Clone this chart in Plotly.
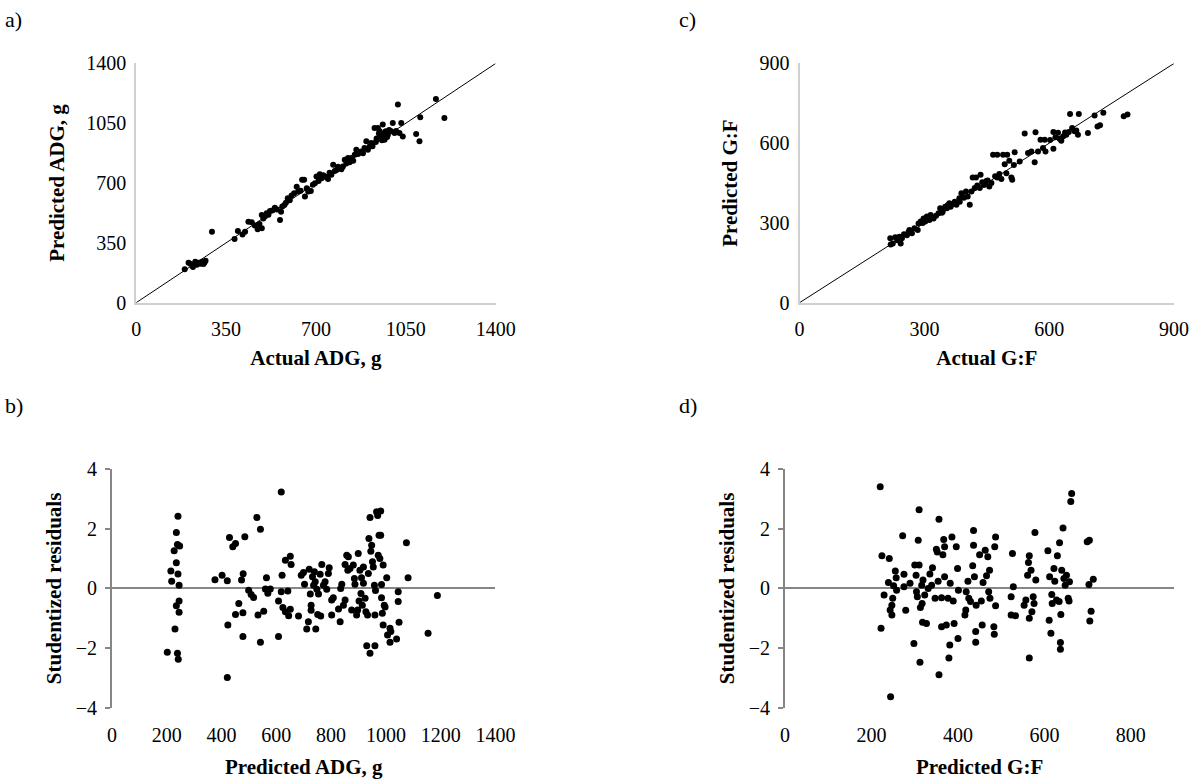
import plotly.graph_objects as go

# ---------------- a) Actual vs predicted ADG ----------------
adg_actual = [189, 204, 212, 221, 230, 236, 243, 250, 256, 262, 266, 270, 295,
              383, 396, 414, 424, 437, 450, 462, 473, 480, 489, 489, 495, 502, 508, 515, 521, 530,
              540, 548, 560, 564, 569, 577, 583, 590, 598, 605, 615, 625, 631, 640, 646, 654, 657,
              664, 670, 680, 688, 696, 702, 710, 715, 722, 728, 735, 741, 747, 753, 760, 767, 773,
              780, 786, 792, 799, 805, 812, 818, 825, 831, 838, 845, 851, 857, 864, 870, 876, 883,
              889, 896, 902, 909, 915, 920, 928, 933, 936, 941, 945, 948, 954, 957, 960, 963, 967,
              970, 973, 977, 980, 985, 993, 999, 1006, 1012, 1019, 1025, 1032, 1038, 1090, 1103,
              1106, 1167, 1200]
adg_predicted = [196, 233, 226, 209, 239, 222, 233, 228, 239, 226, 235, 245, 415,
                 372, 419, 399, 415, 474, 470, 452, 429, 460, 435, 513, 493, 505, 523, 515, 536, 540,
                 556, 545, 484, 532, 562, 572, 585, 611, 600, 627, 640, 679, 650, 655, 719, 719, 621,
                 670, 650, 654, 690, 699, 738, 712, 752, 728, 745, 738, 735, 724, 760, 748, 807, 770,
                 777, 795, 787, 780, 797, 836, 815, 846, 822, 846, 830, 865, 895, 870, 880, 885, 875,
                 905, 944, 895, 914, 934, 915, 1022, 940, 960, 1022, 990, 1003, 973, 950, 1042, 985, 954,
                 1000, 1003, 970, 983, 1010, 1003, 1051, 993, 1005, 1159, 993, 1051, 973, 987, 944,
                 1085, 1192, 1081]

# ---------------- b) Residuals vs predicted ADG ----------------
adg_pred_res = [202, 215, 218, 227, 230, 235, 235, 235, 239, 239, 241, 241, 242, 245, 245, 247, 245,
                376, 402, 421, 421, 423, 429, 441, 451, 451, 463, 473, 478, 479, 478, 485, 499, 508,
                517, 529, 533, 542, 542, 554, 560, 564, 569, 578, 608, 608, 618, 621, 618, 624, 633,
                633, 642, 645, 651, 654, 651, 681, 691, 699, 703, 711, 717, 720, 724, 727, 727, 732,
                736, 739, 742, 744, 748, 754, 751, 760, 762, 766, 772, 778, 784, 790, 793, 802, 802,
                808, 827, 833, 835, 839, 845, 851, 851, 857, 863, 861, 869, 875, 881, 885, 887, 893,
                897, 899, 902, 905, 909, 911, 914, 918, 918, 924, 927, 930, 933, 936, 938, 942, 942,
                945, 948, 951, 954, 958, 960, 960, 962, 966, 970, 972, 975, 978, 981, 981, 984, 984,
                987, 990, 994, 997, 990, 1003, 1006, 1015, 1015, 1018, 1039, 1045, 1045, 1048, 1075,
                1081, 1188, 1154]
adg_resid = [-2.13, 0.58, 0.24, 1.26, -1.36, 0.86, 1.87, -0.58, 1.47, -2.17, 0.48, 2.41, -2.37,
             -0.42, 0.11, 1.42, -0.80,
             0.29, 0.44, 0.26, -2.98, -1.22, 1.70, 1.39, 1.50, -0.87, -0.50, 0.28, -1.61, 0.49,
             -0.81, 1.73, -0.06, -0.20, -0.30, 2.37, -0.89, 1.98, -1.80, -0.76, -0.02, 0.36, -0.16,
             -0.02, -0.42, -1.61, 3.22, 0.44, -0.11, -0.64, 0.94, -0.78, -0.09, -0.91, 1.08, 0.80,
             -0.70, -0.92, 0.44, 0.53, 0.14, -1.36, -1.11, 0.64, -0.19, -0.56, -0.73, 0.39, 0.11,
             0.56, 0.22, -1.36, -0.03, -0.19, -0.87, 0.47, -0.92, 0.80, 0.11, 0.22, -0.03, 0.50,
             0.69, -0.89, -0.39, -0.31, -0.69, -1.11, 0.00, 0.14, -0.56, -0.39, 0.80, 1.11, 1.06,
             0.61, 0.67, -0.72, 0.78, 0.33, 0.14, -0.89, -0.72, 1.17, -0.42, 0.61, -0.17, 0.36,
             -0.56, 0.17, 0.72, -0.33, -0.78, -1.92, -0.89, 0.50, 1.67, 2.37, -2.17, 1.24, 1.44,
             0.89, 0.72, 0.11, -0.89, -1.92, -0.07, 2.56, 2.44, 1.11, 1.78, 1.00, 2.59, 1.78,
             -0.31, 0.13, -0.83, 0.78, -0.56, -0.62, -1.22, 0.36, -1.56, -1.33, -1.80, -1.44,
             -1.69, -0.11, -0.44, -1.13, 1.53, 0.36, -0.24, -1.50]

# ---------------- c) Actual vs predicted G:F ----------------
gf_actual = [218, 219, 224, 230, 235, 240, 243, 246, 251, 258, 264, 270, 276, 284, 286, 291, 298,
             302, 306, 312, 315, 322, 328, 334, 338, 344, 350, 354, 360, 363, 368, 373, 377, 384,
             385, 389, 395, 400, 404, 409, 413, 416, 421, 424, 427, 433, 435, 439, 443, 449, 456,
             461, 465, 475, 475, 480, 485, 489, 493, 497, 499, 504, 509, 511, 515, 517, 529, 541,
             549, 557, 565, 567, 573, 579, 585, 589, 591, 610, 610, 615, 621, 625, 629, 634, 641,
             647, 650, 655, 661, 665, 671, 669, 693, 709, 716, 722, 730, 779, 788,
             262, 296, 318, 342, 356, 392, 446, 452, 470, 602, 638]
gf_predicted = [242, 219, 223, 246, 235, 248, 223, 242, 257, 254, 273, 261, 280, 273, 298, 305, 317,
                305, 324, 311, 330, 317, 327, 336, 355, 342, 361, 355, 374, 361, 370, 380, 368, 393,
                380, 412, 395, 418, 399, 368, 418, 471, 431, 471, 441, 431, 481, 453, 443, 458, 437,
                450, 556, 556, 471, 484, 465, 556, 521, 487, 556, 534, 471, 462, 518, 566, 531, 636,
                563, 569, 528, 641, 569, 613, 582, 613, 569, 579, 642, 622, 639, 617, 609, 626, 632,
                642, 710, 657, 645, 648, 710, 632, 638, 704, 663, 667, 714, 701, 708,
                266, 300, 322, 338, 366, 398, 446, 460, 476, 612, 640]

# ---------------- d) Residuals vs predicted G:F ----------------
gf_pred_res = [220, 222, 224, 229, 239, 241, 243, 244, 247, 247, 249, 251, 255, 257, 258, 272, 275,
               275, 279, 289, 298, 300, 303, 304, 306, 308, 310, 310, 312, 313, 316, 317, 318, 319,
               323, 327, 331, 335, 339, 341, 347, 350, 352, 354, 356, 356, 362, 362, 365, 367, 369,
               369, 373, 377, 379, 381, 382, 386, 389, 391, 396, 399, 400, 401, 416, 418, 419, 423,
               425, 429, 434, 436, 436, 438, 441, 441, 442, 450, 454, 456, 458, 463, 466, 469, 471,
               473, 474, 483, 484, 485, 487, 487, 523, 523, 526, 528, 533, 553, 557, 561, 563, 565,
               565, 565, 569, 571, 574, 576, 578, 580, 608, 611, 612, 615, 617, 618, 622, 624, 628,
               630, 634, 635, 637, 637, 638, 640, 643, 645, 648, 651, 655, 657, 658, 661, 663, 699,
               704, 703, 705, 708, 713]
gf_resid = [3.40, -1.33, 1.09, -0.22, 0.20, 1.00, -0.72, -3.62, -0.89, -0.56, -0.33, 0.09, 0.58,
            0.36, -0.06, 1.76, 0.47, 0.06, -0.73, 0.17, -1.84, 0.78, 0.44, -0.11, -0.28, 1.61,
            2.63, 0.78, -2.47, -0.64, 0.11, -0.50, -1.13, 0.28, -0.22, -1.17, 0.00, 0.48, 0.11,
            0.69, -0.33, 1.31, 1.22, 0.24, 2.31, -2.89, -0.31, -1.28, 1.13, 1.64, 1.39, 0.39,
            -1.22, -0.33, -2.33, -1.89, 0.17, 1.72, -0.42, -1.17, 1.39, 0.67, -1.67, -0.06, -0.89,
            -0.72, -0.11, 0.24, -0.33, -0.44, 0.76, 1.94, 1.44, 0.39, -1.44, -1.80, -0.56, 1.13,
            -0.42, -1.22, 0.20, 1.28, 0.42, 1.06, -0.11, 0.61, -0.33, -1.28, -1.53, 1.39, 1.72,
            -0.58, -0.28, -0.89, 1.17, 0.06, -0.91, -0.56, -0.39, 0.44, 0.87, 1.09, -2.33, -1.00,
            0.61, -0.78, -0.28, -0.50, 1.87, 0.28, 1.26, -1.06, 0.39, -1.50, -0.20, -0.50, 0.67,
            0.24, -0.39, 1.09, -0.44, 1.53, -1.81, -2.03, -0.87, 0.61, 2.02, 0.33, 0.11, 0.44,
            -0.33, -0.42, 0.22, 2.91, 3.17, 1.56, 1.61, 0.13, -1.09, -0.76, 0.31]

ADG_MAX = 1400
GF_MAX = 900

SERIF = "Liberation Serif, Times New Roman, serif"
LIGHT = "#d0d0d0"
MID = "#868686"

W, H = 1198, 784
# page placement: the page keeps a small body margin, so layout positions
# are given in page pixels and converted to figure fractions here
SCALE = 0.983
OFF_X, OFF_Y = 5.3, 6.0


def px(xp):
    return ((xp - OFF_X) / SCALE) / W


def py(yp):
    return 1 - ((yp - OFF_Y) / SCALE) / H


fig = go.Figure()

dot = dict(color="black", size=6)
fig.add_trace(go.Scatter(x=[0, ADG_MAX], y=[0, ADG_MAX], mode="lines",
                         line=dict(color="black", width=1), xaxis="x", yaxis="y",
                         hoverinfo="skip"))
fig.add_trace(go.Scatter(x=adg_actual, y=adg_predicted, mode="markers", marker=dot,
                         xaxis="x", yaxis="y"))
fig.add_trace(go.Scatter(x=adg_pred_res, y=adg_resid, mode="markers",
                         marker=dict(color="black", size=7), xaxis="x2", yaxis="y2"))
fig.add_trace(go.Scatter(x=[0, GF_MAX], y=[0, GF_MAX], mode="lines",
                         line=dict(color="black", width=1), xaxis="x3", yaxis="y3",
                         hoverinfo="skip"))
fig.add_trace(go.Scatter(x=gf_actual, y=gf_predicted, mode="markers", marker=dot,
                         xaxis="x3", yaxis="y3"))
fig.add_trace(go.Scatter(x=gf_pred_res, y=gf_resid, mode="markers",
                         marker=dict(color="black", size=7), xaxis="x4", yaxis="y4"))

top_dom = [py(301), py(59)]
bot_dom = [py(711), py(469)]

tickfont = dict(family=SERIF, size=20, color="black")
titlefont = dict(family=SERIF, size=21, color="black", weight="bold")


def scatter_x(domain, rng, dtick, title, anchor):
    return dict(domain=domain, range=rng, tickvals=list(range(0, rng[1] + 1, dtick)),
                showline=True, linecolor=LIGHT, linewidth=2, showgrid=False, zeroline=False,
                ticks="", tickfont=tickfont, ticklabelstandoff=7, anchor=anchor,
                title=dict(text=title, font=titlefont, standoff=12), fixedrange=True)


def scatter_y(domain, rng, dtick, title, anchor):
    return dict(domain=domain, range=rng, tickvals=list(range(0, rng[1] + 1, dtick)),
                showline=True, linecolor=LIGHT, linewidth=2, showgrid=False, zeroline=False,
                ticks="", tickfont=tickfont, ticklabelstandoff=4, anchor=anchor,
                title=dict(text=title, font=titlefont, standoff=16), fixedrange=True)


def resid_x(domain, rng, tickvals, title, anchor):
    return dict(domain=domain, range=rng, tickvals=tickvals, showline=False, showgrid=False,
                zeroline=False, ticks="", tickfont=tickfont, ticklabelstandoff=13, anchor=anchor,
                title=dict(text=title, font=titlefont, standoff=14), fixedrange=True)


def resid_y(domain, title, anchor):
    return dict(domain=domain, range=[-4, 4], tickvals=[-4, -2, 0, 2, 4], showline=True,
                linecolor=MID, linewidth=2, ticks="outside", ticklen=5, tickwidth=2,
                tickcolor=MID, showgrid=False, zeroline=True, zerolinecolor=MID,
                zerolinewidth=2, tickfont=tickfont, ticklabelstandoff=4, anchor=anchor,
                title=dict(text=title, font=titlefont, standoff=8), fixedrange=True)


fig.update_layout(
    width=W, height=H, margin=dict(l=0, r=0, t=0, b=0),
    paper_bgcolor="white", plot_bgcolor="white", showlegend=False,
    xaxis=scatter_x([px(137), px(498)], [0, ADG_MAX], 350, "Actual ADG, g", "y"),
    yaxis=scatter_y(top_dom, [0, ADG_MAX], 350, "Predicted ADG, g", "x"),
    xaxis2=resid_x([px(112.7), px(497.7)], [0, 1400], list(range(0, 1401, 200)),
                   "Predicted ADG, g", "y2"),
    yaxis2=resid_y(bot_dom, "Studentized residuals", "x2"),
    xaxis3=scatter_x([px(803), px(1179)], [0, GF_MAX], 300, "Actual G:F", "y3"),
    yaxis3=scatter_y(top_dom, [0, GF_MAX], 300, "Predicted G:F", "x3"),
    xaxis4=resid_x([px(788.5), px(1179)], [0, 900], list(range(0, 801, 200)),
                   "Predicted G:F", "y4"),
    yaxis4=resid_y(bot_dom, "Studentized residuals", "x4"),
)

panel_labels = [("a)", 3, 15), ("b)", 3, 405), ("c)", 680, 15), ("d)", 680, 405)]
for txt, lx, ly in panel_labels:
    fig.add_annotation(text=txt, x=px(lx), y=py(ly), xref="paper", yref="paper",
                       xanchor="left", yanchor="middle", showarrow=False,
                       font=dict(family=SERIF, size=22, color="black"))

fig.write_html("out.html")
